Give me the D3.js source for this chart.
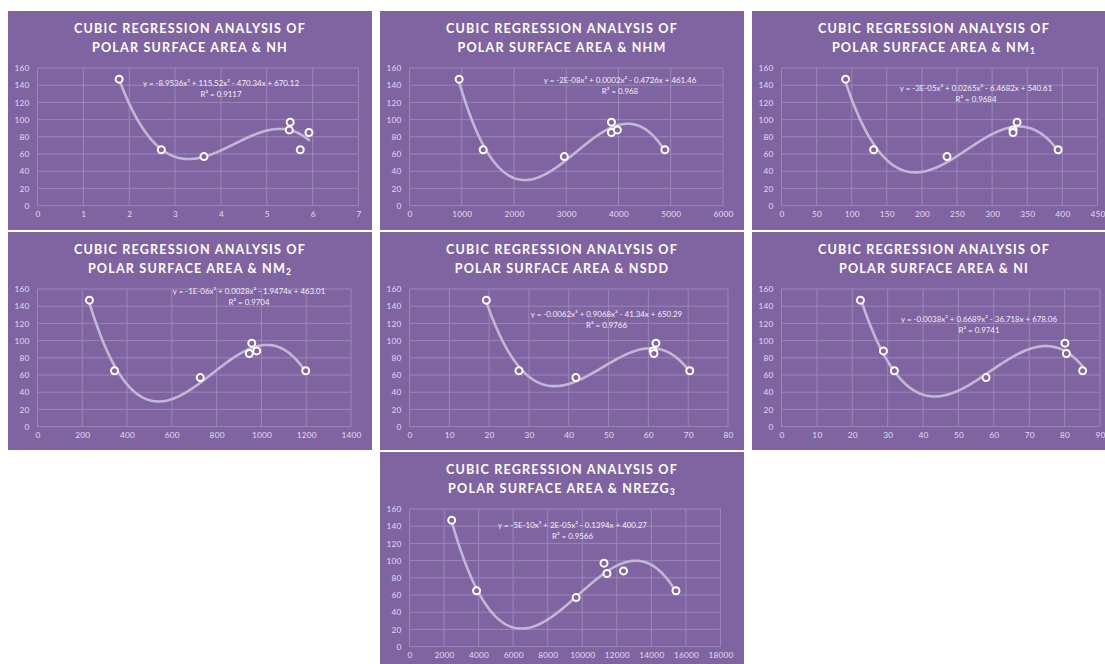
<!DOCTYPE html>
<html><head><meta charset="utf-8">
<script src="https://cdn.jsdelivr.net/npm/d3@7"></script>
<style>html,body{margin:0;padding:0;background:#fff;overflow:hidden;} svg{display:block}</style>
</head><body>
<svg id="c" width="1105" height="664"></svg>
<script>
// ---------- DATA ----------
const descriptorNames = ["NH", "NHM", "NM", "NM", "NSDD", "NI", "NREZG"];
const descriptorSubs  = ["", "", "1", "2", "", "", "3"];

const xNH    = [1.78, 2.70, 3.63, 5.51, 5.49, 5.73, 5.92];
const yNH    = [147, 65, 57, 97, 88, 65, 85];
const xNHM   = [950, 1410, 2963, 3865, 3865, 3979, 4888];
const yNHM   = [147, 65, 57, 97, 85, 88, 65];
const xNM1   = [91.3, 131.2, 235.7, 329.8, 329.8, 335.5, 394];
const yNM1   = [147, 65, 57, 88, 85, 97, 65];
const xNM2   = [232, 344, 727, 957, 946, 979, 1198];
const yNM2   = [147, 65, 57, 97, 85, 88, 65];
const xNSDD  = [19.3, 27.5, 41.8, 61.2, 61.4, 61.9, 70.4];
const yNSDD  = [147, 65, 57, 88, 85, 97, 65];
const xNI    = [22.3, 28.8, 31.9, 57.8, 80.1, 80.5, 85.1];
const yNI    = [147, 88, 65, 57, 97, 85, 65];
const xNREZG3 = [2443, 3883, 9645, 11258, 11431, 12388, 15424];
const yNREZG3 = [147, 65, 57, 97, 85, 88, 65];

const xSeries = [xNH, xNHM, xNM1, xNM2, xNSDD, xNI, xNREZG3];
const ySeries = [yNH, yNHM, yNM1, yNM2, yNSDD, yNI, yNREZG3];

const xDomainMax = [7, 6000, 450, 1400, 80, 90, 18000];
const xTickStep  = [1, 1000, 50, 200, 10, 10, 2000];
const yTickValues = [0, 20, 40, 60, 80, 100, 120, 140, 160];

const equationTexts = [
  "y = -8.9536x³ + 115.52x² - 470.34x + 670.12",
  "y = -2E-08x³ + 0.0002x² - 0.4726x + 461.46",
  "y = -3E-05x³ + 0.0265x² - 6.4682x + 540.61",
  "y = -1E-06x³ + 0.0028x² - 1.9474x + 463.01",
  "y = -0.0062x³ + 0.9068x² - 41.34x + 650.29",
  "y = -0.0038x³ + 0.6689x² - 36.718x + 678.06",
  "y = -5E-10x³ + 2E-05x² - 0.1394x + 400.27"
];
const r2Texts = ["R² = 0.9117", "R² = 0.968", "R² = 0.9684", "R² = 0.9704", "R² = 0.9766", "R² = 0.9741", "R² = 0.9566"];

// ---------- LAYOUT ----------
const colX = [8, 380, 752];
const rowY = [11, 232, 452];
const rowH = [219, 218, 219];
const panelCell = [[0,0],[1,0],[2,0],[0,1],[1,1],[2,1],[1,2]];
const PW = 364;
const eqLabelPos = [[213,72.3],[240,69],[224,77.3],[241,59],[226.5,82.3],[227,87],[192.5,73.3]];

const BG = "#8064a2", GRID = "#9a86b8", TICK = "#e2dbec", CURVE = "#c3b7d6";
const FONT = "Lato, 'Open Sans', sans-serif";

const svg = d3.select("#c");

function cubicFit(xs, ys) {
  const s = d3.max(xs);
  const A = [[0,0,0,0],[0,0,0,0],[0,0,0,0],[0,0,0,0]], b = [0,0,0,0];
  xs.forEach((x, i) => {
    const t = x / s, p = [1, t, t*t, t*t*t];
    for (let r = 0; r < 4; r++) { b[r] += p[r] * ys[i]; for (let c = 0; c < 4; c++) A[r][c] += p[r] * p[c]; }
  });
  for (let k = 0; k < 4; k++) {
    let piv = k;
    for (let r = k+1; r < 4; r++) if (Math.abs(A[r][k]) > Math.abs(A[piv][k])) piv = r;
    [A[k], A[piv]] = [A[piv], A[k]]; [b[k], b[piv]] = [b[piv], b[k]];
    for (let r = k+1; r < 4; r++) {
      const f = A[r][k] / A[k][k];
      for (let c = k; c < 4; c++) A[r][c] -= f * A[k][c];
      b[r] -= f * b[k];
    }
  }
  const co = [0,0,0,0];
  for (let k = 3; k >= 0; k--) {
    let v = b[k];
    for (let c = k+1; c < 4; c++) v -= A[k][c] * co[c];
    co[k] = v / A[k][k];
  }
  return x => { const t = x / s; return co[0] + co[1]*t + co[2]*t*t + co[3]*t*t*t; };
}

// measure helpers
const meas = svg.append("text").attr("font-family", FONT);
function textW(str, size, weight) {
  meas.attr("font-size", size).attr("font-weight", weight || "normal").text(str);
  return meas.node().getComputedTextLength();
}
const titleSize = 12.6;
const titleLS = (232 - textW("CUBIC REGRESSION ANALYSIS OF", titleSize, "bold")) / 28;
const eqSize = 7.9;
const eqLS = (156 - textW(equationTexts[0], eqSize)) / equationTexts[0].length;
const tickSize = 8.3, tickLS = 0.2;
function tickW(str) { return textW(str, tickSize) + tickLS * str.length; }

descriptorNames.forEach((name, i) => {
  const [ci, ri] = panelCell[i];
  const px = colX[ci], py = rowY[ri], ph = rowH[ri];
  const g = svg.append("g").attr("transform", `translate(${px},${py})`);
  g.append("rect").attr("width", PW).attr("height", ph).attr("fill", BG);

  // title
  const t = g.append("text").attr("font-family", FONT).attr("font-weight", "bold")
    .attr("font-size", titleSize).attr("fill", "#ffffff").attr("text-anchor", "middle")
    .attr("letter-spacing", titleLS);
  t.append("tspan").attr("x", PW/2).attr("y", 22.3).text("CUBIC REGRESSION ANALYSIS OF");
  t.append("tspan").attr("x", PW/2).attr("y", 40.8).text("POLAR SURFACE AREA & " + name);
  if (descriptorSubs[i]) {
    t.append("tspan").attr("font-size", 8.5).attr("dy", 2.5).text(descriptorSubs[i]);
  }

  const lastLabel = String(xDomainMax[i]);
  const left = 29.5, top = 57, bottom = 194.6;
  const right = PW - (11 + tickW(lastLabel) / 2);
  const x = d3.scaleLinear().domain([0, xDomainMax[i]]).range([left, right]);
  const y = d3.scaleLinear().domain([0, 160]).range([bottom, top]);
  const xTicks = d3.range(0, xDomainMax[i] + xTickStep[i] / 2, xTickStep[i]);

  // gridlines
  g.append("g").selectAll("line").data(yTickValues).join("line")
    .attr("x1", left).attr("x2", right).attr("y1", d => y(d)).attr("y2", d => y(d))
    .attr("stroke", GRID).attr("stroke-width", 1);
  g.append("g").selectAll("line").data(xTicks).join("line")
    .attr("x1", d => x(d)).attr("x2", d => x(d)).attr("y1", top).attr("y2", bottom)
    .attr("stroke", GRID).attr("stroke-width", 1);

  // axes via d3
  const yAxis = g.append("g").attr("transform", `translate(${left},0)`)
    .call(d3.axisLeft(y).tickValues(yTickValues).tickSize(0).tickPadding(8));
  const xAxis = g.append("g").attr("transform", `translate(0,${bottom})`)
    .call(d3.axisBottom(x).tickValues(xTicks).tickSize(0).tickPadding(6).tickFormat(d3.format("d")));
  [yAxis, xAxis].forEach(a => {
    a.select(".domain").remove();
    a.selectAll("text").attr("font-family", FONT).attr("font-size", tickSize)
      .attr("fill", TICK).attr("letter-spacing", tickLS);
  });

  // trendline
  const xs = xSeries[i], ys = ySeries[i];
  const f = cubicFit(xs, ys);
  const [mn, mx] = d3.extent(xs);
  const pts = d3.range(0, 201).map(k => { const xv = mn + (mx - mn) * k / 200; return [xv, f(xv)]; });
  g.append("path").attr("d", d3.line().x(d => x(d[0])).y(d => y(d[1]))(pts))
    .attr("fill", "none").attr("stroke", CURVE).attr("stroke-width", 2.6)
    .attr("stroke-linecap", "round");

  // markers
  g.append("g").selectAll("circle").data(xs.map((v, k) => [v, ys[k]])).join("circle")
    .attr("cx", d => x(d[0])).attr("cy", d => y(d[1])).attr("r", 3.5)
    .attr("fill", BG).attr("stroke", "#ffffff").attr("stroke-width", 2);

  // equation labels
  const [ex, ey] = eqLabelPos[i];
  const et = g.append("text").attr("font-family", FONT).attr("font-size", eqSize)
    .attr("fill", "#f4f0f8").attr("text-anchor", "middle").attr("letter-spacing", eqLS);
  et.append("tspan").attr("x", ex).attr("y", ey).attr("dy", "0.35em").text(equationTexts[i]);
  et.append("tspan").attr("x", ex).attr("y", ey + 11).attr("dy", "0.35em").text(r2Texts[i]);
});
meas.remove();
</script>
</body></html>
